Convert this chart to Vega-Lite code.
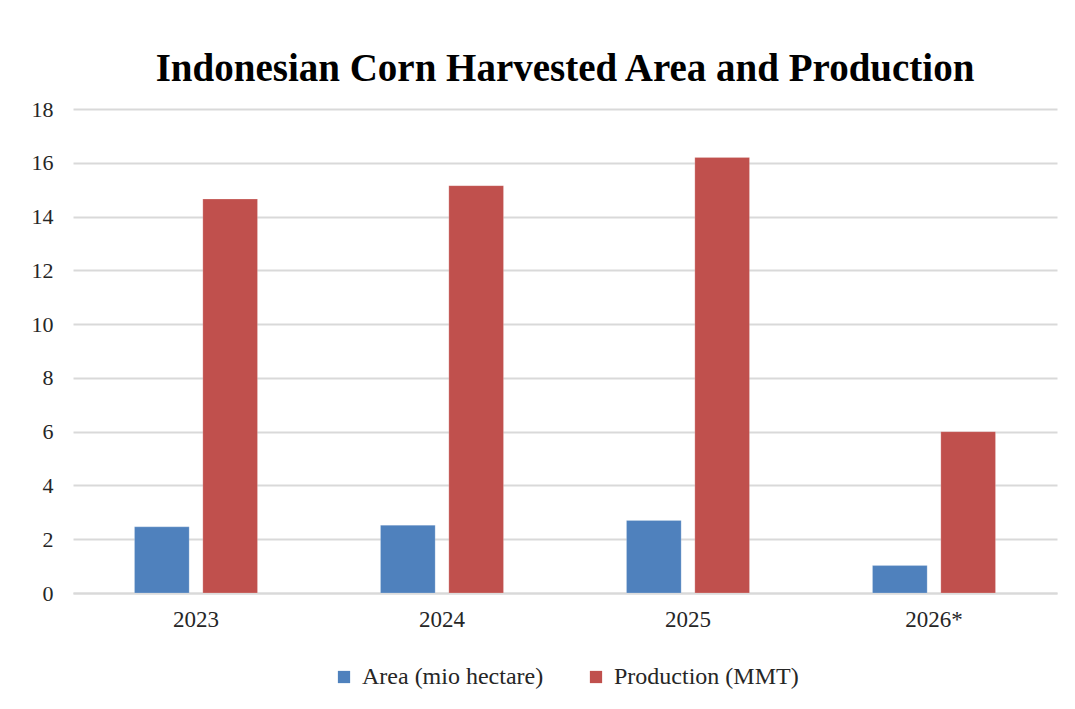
{
  "$schema": "https://vega.github.io/schema/vega-lite/v6.json",
  "width": 984,
  "height": 484,
  "autosize": {"type": "none"},
  "padding": {"left": 73, "top": 109, "right": 18, "bottom": 116},
  "background": "white",
  "title": {
    "text": "Indonesian Corn Harvested Area and Production",
    "font": "Liberation Serif",
    "fontSize": 39,
    "fontWeight": "bold",
    "color": "#000000",
    "anchor": "middle",
    "offset": 9
  },
  "data": {
    "values": [
      {"year": "2023", "series": "Area (mio hectare)", "value": 2.46},
      {"year": "2023", "series": "Production (MMT)", "value": 14.65},
      {"year": "2024", "series": "Area (mio hectare)", "value": 2.52},
      {"year": "2024", "series": "Production (MMT)", "value": 15.15},
      {"year": "2025", "series": "Area (mio hectare)", "value": 2.7},
      {"year": "2025", "series": "Production (MMT)", "value": 16.2},
      {"year": "2026*", "series": "Area (mio hectare)", "value": 1.02},
      {"year": "2026*", "series": "Production (MMT)", "value": 6.0}
    ]
  },
  "mark": {"type": "bar", "stroke": "white", "strokeWidth": 0.5, "strokeOpacity": 0.4},
  "encoding": {
    "x": {
      "field": "year",
      "type": "nominal",
      "title": null,
      "scale": {"paddingInner": 0.5, "paddingOuter": 0.25},
      "axis": {
        "labelAngle": 0,
        "ticks": false,
        "labelPadding": 15,
        "labelFont": "Liberation Serif",
        "labelFontSize": 23,
        "labelColor": "#262626",
        "domainColor": "#d9d9d9",
        "domainWidth": 2
      }
    },
    "xOffset": {
      "field": "series",
      "type": "nominal",
      "scale": {"paddingInner": 0.2, "paddingOuter": 0}
    },
    "y": {
      "field": "value",
      "type": "quantitative",
      "title": null,
      "scale": {"domain": [0, 18], "nice": false},
      "axis": {
        "values": [0, 2, 4, 6, 8, 10, 12, 14, 16, 18],
        "ticks": false,
        "domain": false,
        "labelPadding": 20,
        "labelFont": "Liberation Serif",
        "labelFontSize": 22,
        "labelColor": "#262626",
        "gridColor": "#d9d9d9",
        "gridWidth": 2
      }
    },
    "color": {
      "field": "series",
      "type": "nominal",
      "scale": {
        "domain": ["Area (mio hectare)", "Production (MMT)"],
        "range": ["#4f81bd", "#c0504d"]
      },
      "legend": {
        "orient": "bottom",
        "direction": "horizontal",
        "title": null,
        "symbolType": "square",
        "symbolSize": 150,
        "symbolStrokeWidth": 0,
        "labelFont": "Liberation Serif",
        "labelFontSize": 24,
        "labelLimit": 400,
        "labelColor": "#262626",
        "columnPadding": 40,
        "labelOffset": 6,
        "offset": 34
      }
    }
  },
  "config": {
    "view": {"stroke": null},
    "legend": {"layout": {"bottom": {"anchor": "middle"}}}
  }
}
